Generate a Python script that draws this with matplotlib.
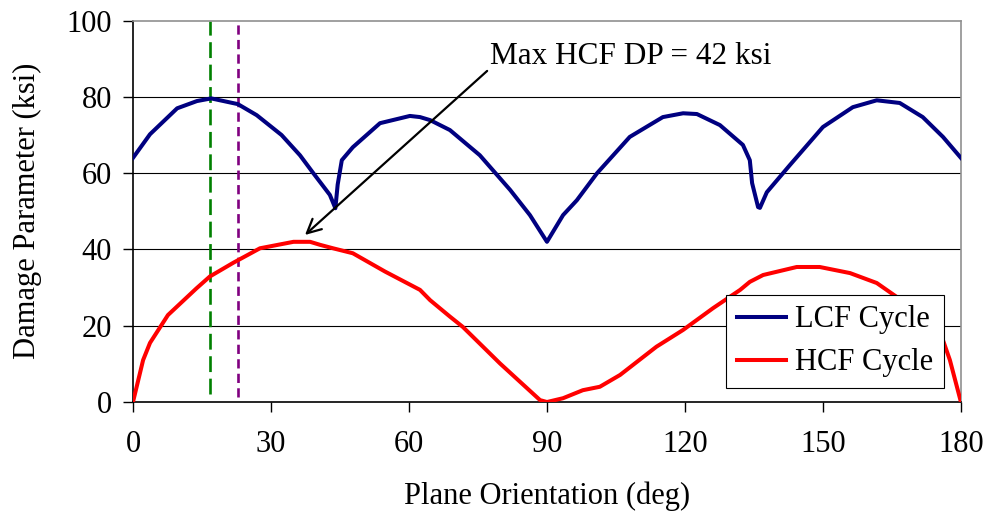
import numpy as np
import matplotlib.pyplot as plt

plt.rcParams['font.family'] = ['Liberation Serif', 'DejaVu Serif']

# plane orientation (deg) vs damage parameter (ksi)
lcf_deg = [0, 3.7, 9.6, 13.9, 17, 22.8, 26.9, 32.3, 36.3, 39.2, 42.8, 44.0, 44.5, 45.4,
           47.8, 53.7, 60.2, 62.4, 64.6, 68.9, 75.4, 82.0, 86.3, 90, 93.5, 96.5, 100.9,
           108, 115.2, 119.6, 122.6, 127.6, 132.6, 134.1, 134.6, 135.9, 136.3, 137.8,
           142.8, 150, 156.5, 161.7, 166.7, 171.7, 176.1, 180]
lcf_dp = [64, 70.2, 77, 78.9, 79.6, 78.1, 75.2, 70, 64.7, 60, 54.3, 50.8, 57, 63.4,
          66.8, 73.1, 75, 74.7, 73.9, 71.3, 64.7, 55.6, 49, 42, 49, 52.9, 60,
          69.5, 74.7, 75.7, 75.5, 72.6, 67.4, 63.4, 57.4, 51.1, 50.9, 55,
          62.1, 72.1, 77.3, 79.1, 78.4, 74.7, 69.5, 64]

hcf_deg = [0, 2.2, 3.7, 7.6, 13.8, 16.7, 21.8, 27.6, 34.9, 38.5, 40.7, 43.5, 47.8, 54.8,
           62.4, 64.6, 68.9, 71.7, 79.8, 88.5, 90, 93.5, 97.8, 101.5, 105.9, 113.8,
           119.6, 126.1, 132, 134.1, 137, 144.3, 149.3, 155.9, 161.7, 166.1, 170, 173,
           176.1, 177.6, 180]
hcf_dp = [0, 11, 15.5, 22.8, 29.8, 32.9, 36.5, 40.3, 42, 42, 41.2, 40.3, 39, 34.2,
          29.4, 26.7, 22.4, 19.7, 10.1, 0.5, 0, 1, 3.1, 4, 7.1, 14.5,
          18.9, 24.6, 29.4, 31.5, 33.3, 35.4, 35.4, 33.8, 31.2, 27.5, 24, 20,
          16.2, 11, 0]

max_hcf = 42
crit_planes = [16.7, 22.8]

fig = plt.figure(figsize=(9.88, 5.12), dpi=100)
ax = fig.add_axes([0.1346, 0.2148, 0.838, 0.745])

for y in [20, 40, 60, 80]:
    ax.axhline(y, color='black', lw=0.8, zorder=1)

ax.plot(lcf_deg, lcf_dp, color='#000080', lw=2.9, label='LCF Cycle', zorder=3)
ax.plot(hcf_deg, hcf_dp, color='#ff0000', lw=2.9, label='HCF Cycle', zorder=3)

ax.plot([crit_planes[0]] * 2, [2, 100], color='#008000', lw=1.9,
        dashes=(6, 2.5), zorder=2)
ax.plot([crit_planes[1]] * 2, [1.3, 100], color='#800080', lw=1.9,
        dashes=(3.5, 2), zorder=2)

ax.annotate(f'Max HCF DP = {max_hcf} ksi', xy=(37.4, 43.8), xytext=(77.6, 90.5),
            fontsize=22.5, va='center', ha='left',
            arrowprops=dict(arrowstyle='->', color='black', lw=1.6,
                            mutation_scale=25, shrinkA=0, shrinkB=0,
                            relpos=(0, 0.1)))

ax.set_xlim(0, 180)
ax.set_ylim(0, 100)
ax.set_xticks(np.arange(0, 181, 30))
ax.set_yticks(np.arange(0, 101, 20))
ax.tick_params(labelsize=22, length=7, width=1, direction='out', pad=8)
ax.tick_params(axis='x', pad=13)
ax.set_xlabel('Plane Orientation (deg)', fontsize=22, labelpad=16)
ax.set_ylabel('Damage Parameter (ksi)', fontsize=22, labelpad=18)

for side in ['left', 'bottom']:
    ax.spines[side].set_color('black')
    ax.spines[side].set_linewidth(1.2)
for side in ['top', 'right']:
    ax.spines[side].set_color('#909090')
    ax.spines[side].set_linewidth(1.2)

leg = ax.legend(loc='lower right', bbox_to_anchor=(0.979, 0.037), fontsize=22,
                frameon=True, fancybox=False, edgecolor='black', framealpha=1,
                borderaxespad=0, handlelength=1.6, handletextpad=0.3,
                labelspacing=0.45, borderpad=0.35)
leg.get_frame().set_linewidth(0.8)
leg.set_zorder(5)

fig.savefig('out.png', dpi=100)
